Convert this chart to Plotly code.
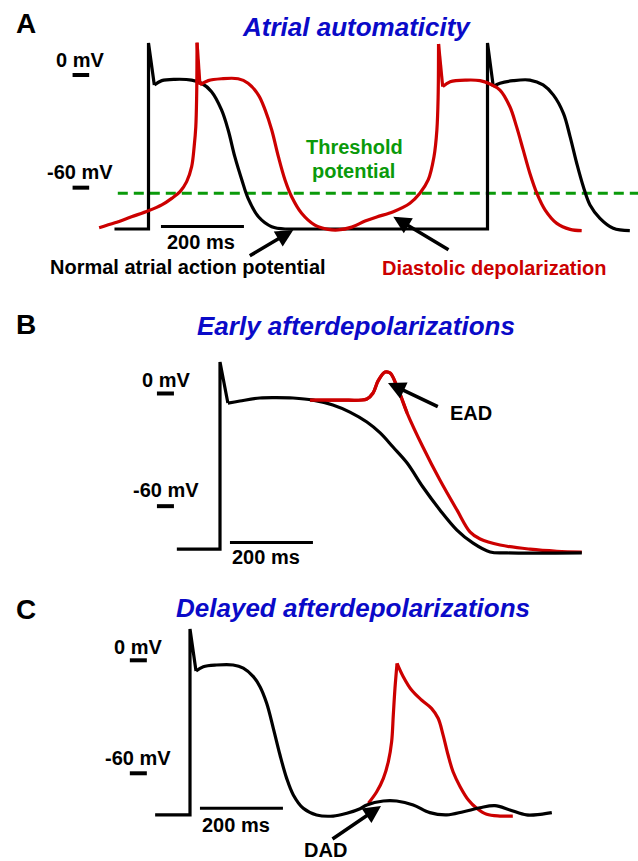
import plotly.graph_objects as go

W, H = 638, 861

# ---------------- data (time in ms, membrane potential in mV) ----------------
# Panel A: atrial automaticity
A_BLACK_T = [-82, 0, 0, 14, 32, 64, 104, 128, 152, 176, 192, 208, 225, 240, 265, 297, 329,
             817, 817, 831, 847, 879, 919, 951, 976, 1000, 1016, 1032, 1048, 1064, 1088, 1120, 1160]
A_BLACK_V = [-82, -82, 17, -5.3, -3.0, -2.3, -2.7, -4.4, -8.9, -18.6, -29.3, -43.5, -55.9, -65.7, -75.5, -80.8, -82,
             -82, 17, -6.2, -4.4, -3.0, -2.7, -5.3, -10.7, -20.4, -32.8, -47, -59.5, -69.2, -76.3, -81.6, -82.9]

A_RED_T = [-119, -81, -41, 0, 32, 56, 76, 92, 104, 110, 114, 116, 117, 124, 144, 176, 216, 240, 265, 281,
           297, 313, 329, 345, 369, 401, 433, 457, 490, 522, 550, 590, 630, 654, 674, 688, 695, 698, 699, 709,
           727, 767, 799, 823, 847, 871, 887, 903, 919, 936, 956, 984, 1016, 1044]
A_RED_V = [-81.3, -78.7, -75.5, -72.3, -69.2, -65.7, -62.1, -56.8, -48.8, -38.2, -27.5, -11.6, 17.2, -5.3, -3.0, -2.0, -2.0, -4.4, -10.7, -18.6,
           -29.3, -43.5, -55.9, -64.8, -73.6, -79.9, -82.2, -82.5, -81.0, -77.8, -75.6, -72.8, -68.3, -63.0, -55.9, -43.5, -29.3, -11.6, 16.5, -6.2,
           -3.6, -2.7, -3.0, -4.8, -8.0, -16.9, -27.5, -39.9, -52.3, -63.0, -71.9, -79.0, -82.2, -82.9]

THRESHOLD_MV = -63
THRESHOLD_T = [-74, 1180]

# Panel B: early afterdepolarizations
B_BLACK_T = [-104, 0, 0, 19, 48, 96, 136, 176, 224, 272, 313, 354, 386, 417, 451, 489, 530, 571, 610, 651, 692, 872]
B_BLACK_V = [-82.9, -82.9, 16.8, -5.1, -4.0, -2.4, -2.2, -2.4, -3.5, -6.1, -9.9, -15.2, -21.0, -28.5, -37.0, -49.8,
             -62.0, -72.7, -79.7, -84.4, -84.9, -84.9]
B_RED_T = [217, 289, 354, 369, 381, 398, 410, 427, 451, 489, 530, 571, 603, 627, 675, 747, 812, 872]
B_RED_V = [-3.5, -3.5, -2.9, 0.3, 6.7, 11.4, 10.9, 3.5, -10.4, -28.5, -46.1, -62.0, -73.8, -77.5, -80.7, -82.9, -84.0, -84.4]

# Panel C: delayed afterdepolarizations
C_BLACK_T = [-84, 0, 0, 14.5, 32, 64, 104, 128.5, 152.6, 168.7, 184.8, 200.8, 216.9, 233, 249, 273, 305, 345, 378, 410,
             426, 466, 498, 538, 578, 619, 659, 699, 735, 771, 811, 844, 872]
C_BLACK_V = [-82.1, -82.1, 16.6, -5.7, -3.4, -2.5, -2.5, -4.2, -8.7, -14.0, -22.8, -36.1, -50.3, -62.7, -71.5, -78.6, -82.1, -82.7, -81.2, -78.8,
             -76.8, -74.7, -74.7, -76.8, -80.9, -82.1, -80.4, -78.3, -77.2, -79.5, -82.1, -81.8, -80.9]
C_RED_T = [430, 450, 466, 478, 486, 490, 494, 499, 514, 534, 558, 582, 598, 610, 622, 634, 651, 671, 691, 715, 747, 778]
C_RED_V = [-75.9, -69.8, -62.7, -53.8, -43.2, -29.0, -14.9, -1.6, -8.7, -15.8, -21.1, -25.5, -30.8, -39.7, -50.3, -59.2,
           -67.1, -74.2, -78.6, -81.8, -82.7, -82.7]

SCALE_MS = 200
MV_TICKS = [0, -60]
MV_TICK_LABELS = ["0 mV", "-60 mV"]

# ---------------- styles ----------------
BLACK = "#000000"
RED = "#CC0000"
GREEN = "#0A9A0A"
BLUE = "#0A0AC8"
FONT = "Liberation Sans, Arial, sans-serif"
LW = 3.2

fig = go.Figure()


def line(xs, ys, color, ax, width=LW, dash=None, shape="linear"):
    fig.add_trace(go.Scatter(
        x=xs, y=ys, mode="lines",
        line=dict(color=color, width=width, dash=dash, shape=shape,
                  smoothing=1.0 if shape == "spline" else None),
        xaxis="x" + ax, yaxis="y" + ax,
        hoverinfo="skip", showlegend=False))


def curve(ts, vs, color, ax, pieces):
    """Draw a trace piecewise: sharp parts (upstroke spikes) straight, the rest smoothed.
    pieces: list of (start_index, end_index_inclusive, shape)."""
    for i0, i1, shape in pieces:
        line(ts[i0:i1 + 1], vs[i0:i1 + 1], color, ax, shape=shape)


panels = {
    "A": dict(ax="", xr=[-357.9, 1179.7], yr=[-114.49, 39.94], dom=[1 - 290 / H, 1.0],
              bar_t=30, bar_v=-80.7, tick_t=[-183, -143]),
    "B": dict(ax="2", xr=[-530.2, 1007.4], yr=[-96.65, 55.11], dom=[1 - 575 / H, 1 - 290 / H],
              bar_t=24, bar_v=-79.4, tick_t=[-152, -111]),
    "C": dict(ax="3", xr=[-457.9, 1079.7], yr=[-106.57, 45.29], dom=[0.0, 1 - 575 / H],
              bar_t=24, bar_v=-78.6, tick_t=[-145, -104]),
}

# Panel A traces
line(THRESHOLD_T, [THRESHOLD_MV, THRESHOLD_MV], GREEN, "", width=3, dash="10px,6px")
curve(A_BLACK_T, A_BLACK_V, BLACK, "",
      [(0, 3, "linear"), (3, 16, "spline"), (16, 19, "linear"), (19, len(A_BLACK_T) - 1, "spline")])
curve(A_RED_T, A_RED_V, RED, "",
      [(0, 12, "spline"), (12, 13, "linear"), (13, 38, "spline"), (38, 39, "linear"),
       (39, len(A_RED_T) - 1, "spline")])
# Panel B traces
curve(B_RED_T, B_RED_V, RED, "2", [(0, len(B_RED_T) - 1, "spline")])
curve(B_BLACK_T, B_BLACK_V, BLACK, "2", [(0, 3, "linear"), (3, len(B_BLACK_T) - 1, "spline")])
curve(B_RED_T, B_RED_V, RED, "2", [(0, 8, "spline")])
# Panel C traces
curve(C_RED_T, C_RED_V, RED, "3", [(0, 7, "spline"), (7, len(C_RED_T) - 1, "spline")])
curve(C_BLACK_T, C_BLACK_V, BLACK, "3", [(0, 3, "linear"), (3, len(C_BLACK_T) - 1, "spline")])

# scale bars and mV markers
for key, p in panels.items():
    line([p["bar_t"], p["bar_t"] + SCALE_MS], [p["bar_v"], p["bar_v"]], BLACK, p["ax"], width=3)
    for v in MV_TICKS:
        line(p["tick_t"], [v, v], BLACK, p["ax"], width=4)

layout_axes = {}
for key, p in panels.items():
    layout_axes["xaxis" + p["ax"]] = dict(domain=[0, 1], range=p["xr"], visible=False, fixedrange=True,
                                         anchor="y" + p["ax"])
    layout_axes["yaxis" + p["ax"]] = dict(domain=p["dom"], range=p["yr"], visible=False, fixedrange=True,
                                         anchor="x" + p["ax"])


def P(px, py):
    return px / W, 1 - py / H


annotations = []


def text(s, px, py, size=20, color=BLACK, italic=False):
    x, y = P(px, py)
    t = "<b>" + s + "</b>"
    if italic:
        t = "<i>" + t + "</i>"
    annotations.append(dict(text=t, x=x, y=y, xref="paper", yref="paper", showarrow=False,
                            xanchor="center", yanchor="middle",
                            font=dict(family=FONT, size=size, color=color)))


def arrow(tip_px, tip_py, tail_px, tail_py):
    x, y = P(tip_px, tip_py)
    annotations.append(dict(text="", x=x, y=y, xref="paper", yref="paper", showarrow=True,
                            ax=tail_px - tip_px, ay=tail_py - tip_py, axref="pixel", ayref="pixel",
                            arrowhead=2, arrowsize=1.0, arrowwidth=3.5, arrowcolor=BLACK, standoff=0))


# panel letters
text("A", 26, 23.5, size=28)
text("B", 25.5, 324, size=28)
text("C", 25.5, 609, size=28)
# titles
text("Atrial automaticity", 356.5, 26.7, size=26, color=BLUE, italic=True)
text("Early afterdepolarizations", 356, 325.5, size=26, color=BLUE, italic=True)
text("Delayed afterdepolarizations", 353, 608, size=26, color=BLUE, italic=True)
# mV labels
for (cx, cy0, cy60) in [(80, 60, 171.7), (166, 380, 490), (137.5, 646.5, 758)]:
    text(MV_TICK_LABELS[0], cx, cy0)
    text(MV_TICK_LABELS[1], cx, cy60)
# scale labels
text("200 ms", 200.5, 241.7)
text("200 ms", 266, 557)
text("200 ms", 236, 825)
# panel A labels
text("Threshold", 354, 147.3, color=GREEN)
text("potential", 353.3, 170.5, color=GREEN)
text("Normal atrial action potential", 188, 267.2)
text("Diastolic depolarization", 494, 267.5, color=RED)
arrow(293.3, 230, 248.3, 256.7)
arrow(393.3, 216.7, 450, 250.7)
# panel B / C labels
text("EAD", 471, 413.3)
arrow(388, 383, 439.3, 407.3)
text("DAD", 325, 850)
arrow(381, 806, 331, 840)

fig.update_layout(
    width=W, height=H,
    margin=dict(l=0, r=0, t=0, b=0),
    paper_bgcolor="white", plot_bgcolor="white",
    showlegend=False,
    annotations=annotations,
    **layout_axes,
)

fig.write_html("out.html", config={"displayModeBar": False},
               post_script="document.body.style.margin='0';document.body.style.overflow='hidden';")
